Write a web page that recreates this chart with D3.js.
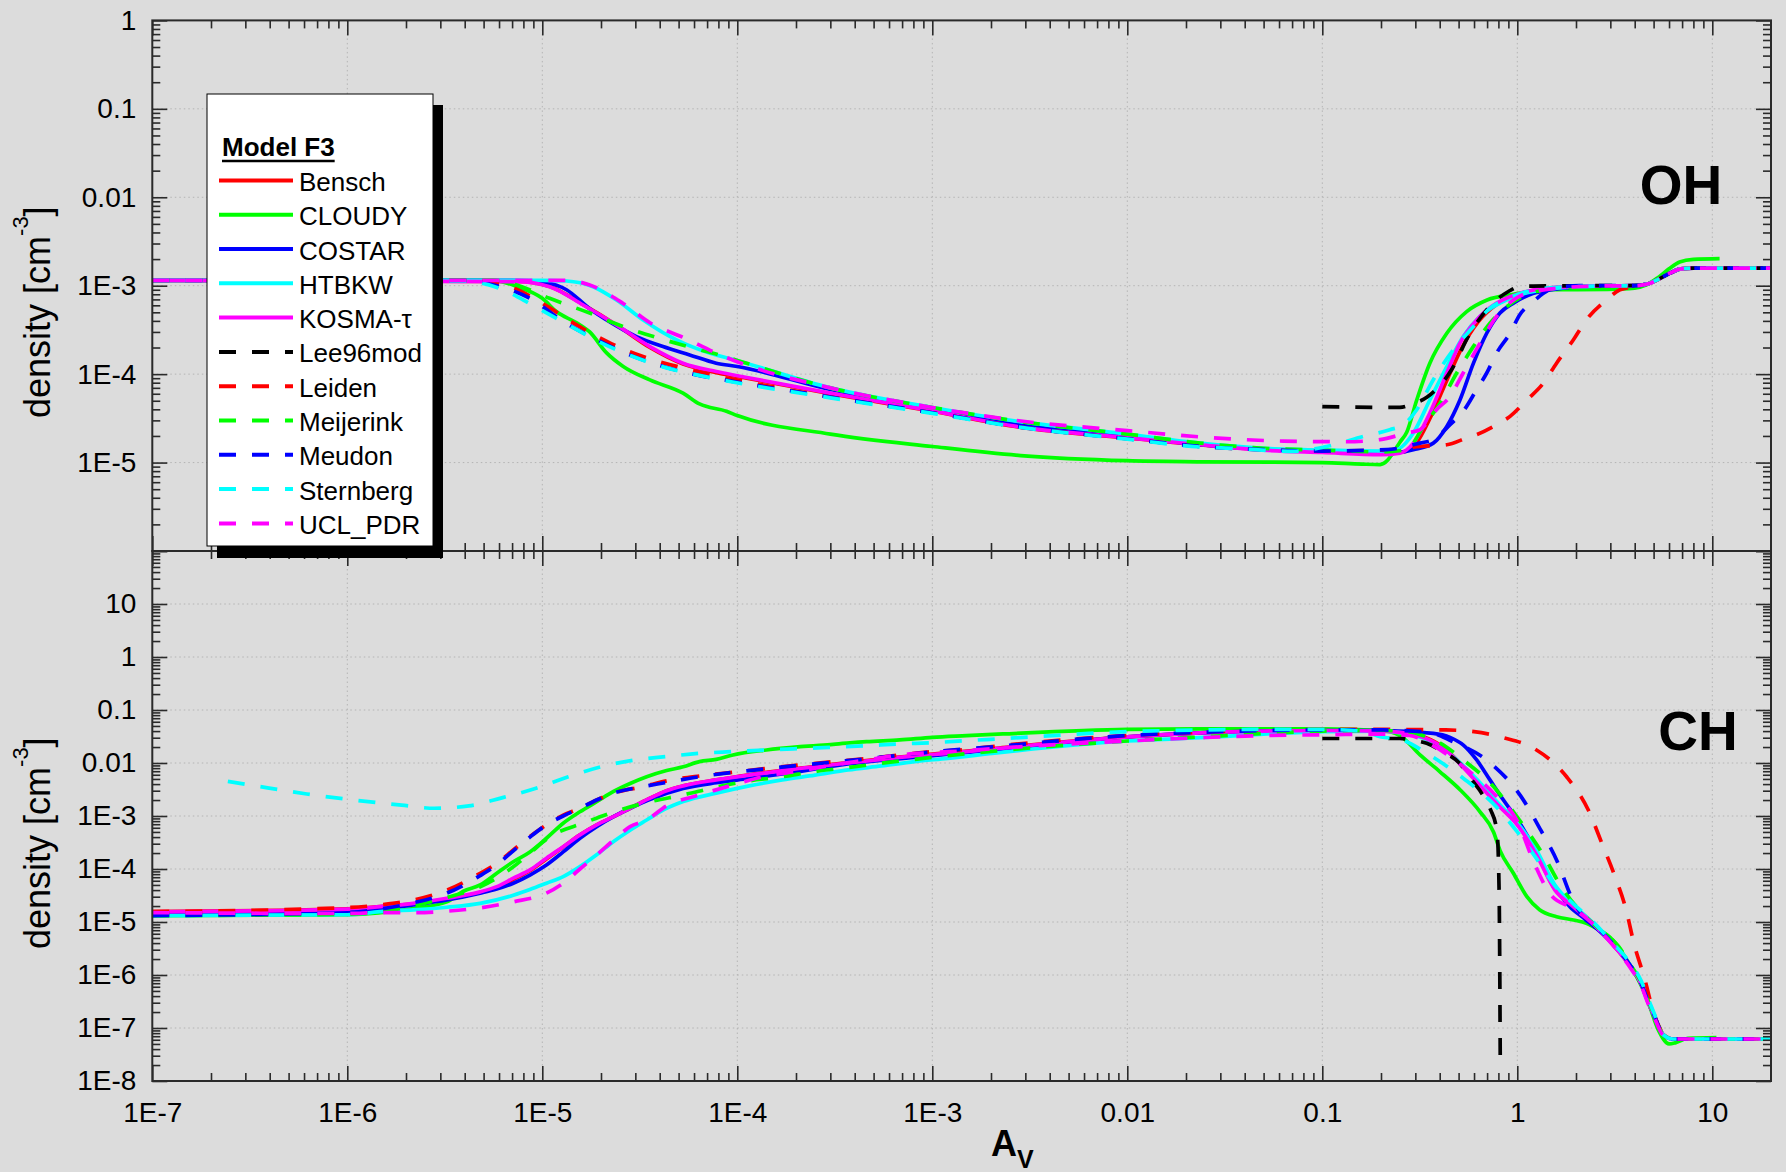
<!DOCTYPE html>
<html><head><meta charset="utf-8">
<script src="https://cdn.jsdelivr.net/npm/d3@7"></script>
<style>
body{margin:0;background:#dcdcdc;}
svg{display:block;font-family:"Liberation Sans",Arial,sans-serif;}
</style>
</head><body>
<svg id="chart" width="1786" height="1172"></svg>
<script>
// ---------------- data ----------------
const models = ["Bensch","CLOUDY","COSTAR","HTBKW","KOSMA-\u03c4","Lee96mod","Leiden","Meijerink","Meudon","Sternberg","UCL_PDR"];
const xTickValues = [1e-7,1e-6,1e-5,1e-4,1e-3,0.01,0.1,1,10];
const xTickLabels = ["1E-7","1E-6","1E-5","1E-4","1E-3","0.01","0.1","1","10"];
const ohTickValues = [1,0.1,0.01,1e-3,1e-4,1e-5];
const ohTickLabels = ["1","0.1","0.01","1E-3","1E-4","1E-5"];
const chTickValues = [10,1,0.1,0.01,1e-3,1e-4,1e-5,1e-6,1e-7,1e-8];
const chTickLabels = ["10","1","0.1","0.01","1E-3","1E-4","1E-5","1E-6","1E-7","1E-8"];
const xDomain = [1e-7, 20];
const ohDomain = [1e-6, 1];
const chDomain = [1e-8, 100];

// OH density [cm^-3] vs A_V  ([A_V, n])
const OH_Bensch = [[1e-7,1.15e-3],[7.4e-6,1.12e-3],[1.09e-5,9.8e-4],[1.62e-5,6.1e-4],[2.4e-5,3.6e-4],[3.56e-5,2.0e-4],[5.27e-5,1.3e-4],[7.8e-5,1.04e-4],[1e-4,9.4e-5],[3e-4,6.0e-5],[1e-3,3.8e-5],[2.84e-3,2.5e-5],[0.01,1.9e-5],[0.0236,1.58e-5],[0.05,1.4e-5],[0.1,1.33e-5],[0.2,1.28e-5],[0.26,1.32e-5],[0.3,1.6e-5],[0.36,3.3e-5],[0.44,9e-5],[0.52,2.0e-4],[0.63,3.9e-4],[0.79,6.2e-4],[1.03,8.1e-4],[1.41,9.3e-4],[2.5,9.9e-4],[4.0,1.0e-3],[4.7,1.05e-3],[5.25,1.17e-3],[6.0,1.37e-3],[6.9,1.55e-3],[8.0,1.58e-3],[20,1.58e-3]];
const OH_CLOUDY = [[1e-7,1.15e-3],[5.6e-6,1.15e-3],[7.4e-6,9.8e-4],[1.0e-5,7.2e-4],[1.18e-5,5.1e-4],[1.5e-5,3.8e-4],[1.75e-5,3.0e-4],[2.13e-5,1.75e-4],[2.6e-5,1.22e-4],[3.56e-5,8.6e-5],[5.27e-5,6.1e-5],[6.4e-5,4.6e-5],[8.8e-5,3.8e-5],[1e-4,3.4e-5],[3e-4,2.1e-5],[1e-3,1.52e-5],[2.84e-3,1.2e-5],[0.01,1.05e-5],[0.0236,1.02e-5],[0.1,1.0e-5],[0.16,9.6e-6],[0.198,9.5e-6],[0.215,1.05e-5],[0.231,1.3e-5],[0.25,1.7e-5],[0.271,2.2e-5],[0.305,5.1e-5],[0.356,1.33e-4],[0.435,2.9e-4],[0.55,5.1e-4],[0.7,6.9e-4],[0.955,8.0e-4],[1.41,9.0e-4],[2.9,9.1e-4],[4.0,9.4e-4],[4.6,1.02e-3],[5.3,1.25e-3],[6.0,1.55e-3],[6.8,1.85e-3],[8.0,1.98e-3],[10.9,2.02e-3]];
const OH_COSTAR = [[1e-7,1.15e-3],[7e-6,1.15e-3],[1.05e-5,1.08e-3],[1.33e-5,9.0e-4],[1.75e-5,5.5e-4],[2.22e-5,3.9e-4],[3.04e-5,2.66e-4],[4.16e-5,2.05e-4],[5.7e-5,1.65e-4],[7.8e-5,1.33e-4],[1e-4,1.22e-4],[3e-4,6.7e-5],[1e-3,4.0e-5],[2.84e-3,2.65e-5],[0.01,2.0e-5],[0.0236,1.59e-5],[0.05,1.42e-5],[0.1,1.36e-5],[0.198,1.25e-5],[0.293,1.4e-5],[0.371,1.66e-5],[0.435,2.56e-5],[0.508,5.1e-5],[0.596,1.33e-4],[0.697,2.9e-4],[0.815,4.9e-4],[0.955,6.35e-4],[1.21,8.2e-4],[1.53,9.1e-4],[2.5,9.9e-4],[4.0,1.0e-3],[4.7,1.05e-3],[5.25,1.17e-3],[6.0,1.37e-3],[6.9,1.55e-3],[8.0,1.58e-3],[20,1.58e-3]];
const OH_HTBKW = [[1e-7,1.15e-3],[1.0e-5,1.15e-3],[1.33e-5,1.13e-3],[1.82e-5,9.75e-4],[2.4e-5,6.9e-4],[3.29e-5,4.1e-4],[4.88e-5,2.44e-4],[7.2e-5,1.73e-4],[1e-4,1.42e-4],[3e-4,7.0e-5],[1e-3,4.2e-5],[2.84e-3,2.9e-5],[0.01,2.1e-5],[0.0236,1.66e-5],[0.05,1.45e-5],[0.1,1.38e-5],[0.2,1.35e-5],[0.24,1.4e-5],[0.293,2.16e-5],[0.356,5.1e-5],[0.435,1.22e-4],[0.528,2.67e-4],[0.644,4.5e-4],[0.815,6.35e-4],[1.03,7.9e-4],[1.41,9.1e-4],[2.5,9.9e-4],[4.0,1.0e-3],[4.7,1.05e-3],[5.25,1.17e-3],[6.0,1.37e-3],[6.9,1.55e-3],[8.0,1.58e-3],[20,1.58e-3]];
const OH_KOSMA = [[1e-7,1.15e-3],[7.4e-6,1.11e-3],[1.09e-5,9.75e-4],[1.62e-5,6.05e-4],[2.4e-5,3.6e-4],[3.56e-5,2.05e-4],[5.27e-5,1.33e-4],[7.8e-5,1.07e-4],[1e-4,9.6e-5],[3e-4,6.1e-5],[1e-3,3.84e-5],[2.84e-3,2.52e-5],[0.01,1.91e-5],[0.0236,1.59e-5],[0.05,1.38e-5],[0.1,1.3e-5],[0.2,1.23e-5],[0.25,1.28e-5],[0.293,1.66e-5],[0.356,3.63e-5],[0.435,1.03e-4],[0.508,2.24e-4],[0.619,4.1e-4],[0.783,6.35e-4],[1.03,8.2e-4],[1.41,9.4e-4],[2.5,9.9e-4],[4.0,1.0e-3],[4.7,1.05e-3],[5.25,1.17e-3],[6.0,1.37e-3],[6.9,1.55e-3],[8.0,1.58e-3],[20,1.58e-3]];
const OH_Lee96mod = [[0.1,4.3e-5],[0.25,4.2e-5],[0.29,4.6e-5],[0.345,5.5e-5],[0.46,1.12e-4],[0.567,2.8e-4],[0.75,6.35e-4],[0.9,8.6e-4],[1.03,9.8e-4],[1.21,9.9e-4],[2.5,1.0e-3],[4.0,1.0e-3],[4.7,1.05e-3],[5.25,1.17e-3],[6.0,1.37e-3],[6.9,1.55e-3],[8.0,1.58e-3],[20,1.58e-3]];
const OH_Leiden = [[1e-7,1.15e-3],[4.5e-6,1.14e-3],[7.0e-6,9.6e-4],[9.9e-6,6.4e-4],[1.47e-5,3.7e-4],[2.18e-5,2.3e-4],[3.23e-5,1.6e-4],[4.78e-5,1.24e-4],[7.08e-5,1.0e-4],[1.05e-4,8.4e-5],[3e-4,5.5e-5],[1e-3,3.66e-5],[2.84e-3,2.52e-5],[0.01,1.86e-5],[0.0236,1.52e-5],[0.05,1.4e-5],[0.1,1.35e-5],[0.2,1.38e-5],[0.317,1.52e-5],[0.435,1.59e-5],[0.55,1.9e-5],[0.619,2.07e-5],[0.783,2.68e-5],[0.918,3.33e-5],[1.12,5.1e-5],[1.36,7.9e-5],[1.59,1.33e-4],[1.94,2.45e-4],[2.26,4.1e-4],[2.87,6.9e-4],[3.36,9.0e-4],[4.26,1.0e-3],[4.7,1.05e-3],[5.25,1.17e-3],[6.0,1.37e-3],[6.9,1.55e-3],[8.0,1.58e-3],[20,1.58e-3]];
const OH_Meijerink = [[1e-7,1.15e-3],[5.6e-6,1.16e-3],[7.4e-6,1.02e-3],[1.09e-5,7.2e-4],[1.75e-5,4.9e-4],[2.6e-5,3.45e-4],[3.85e-5,2.6e-4],[5.7e-5,2.02e-4],[8.45e-5,1.6e-4],[1e-4,1.43e-4],[3e-4,7.0e-5],[1e-3,4.2e-5],[2.84e-3,2.9e-5],[0.01,2.1e-5],[0.0236,1.66e-5],[0.05,1.45e-5],[0.1,1.38e-5],[0.2,1.32e-5],[0.271,1.4e-5],[0.33,2.56e-5],[0.402,4.7e-5],[0.489,1.03e-4],[0.596,2.06e-4],[0.724,3.78e-4],[0.883,5.8e-4],[1.07,7.6e-4],[1.41,9.0e-4],[2.5,9.9e-4],[4.0,1.0e-3],[4.7,1.05e-3],[5.25,1.17e-3],[6.0,1.37e-3],[6.9,1.55e-3],[8.0,1.58e-3],[20,1.58e-3]];
const OH_Meudon = [[1e-7,1.15e-3],[4e-6,1.14e-3],[6.0e-6,9.8e-4],[8.65e-6,7.2e-4],[1.28e-5,3.93e-4],[1.94e-5,2.4e-4],[2.8e-5,1.65e-4],[4.17e-5,1.22e-4],[6.17e-5,9.8e-5],[9.1e-5,8.4e-5],[3e-4,5.5e-5],[1e-3,3.66e-5],[2.84e-3,2.52e-5],[0.01,1.86e-5],[0.0236,1.52e-5],[0.05,1.4e-5],[0.1,1.35e-5],[0.214,1.4e-5],[0.317,1.66e-5],[0.371,1.82e-5],[0.452,2.68e-5],[0.528,3.8e-5],[0.619,6.7e-5],[0.697,1.03e-4],[0.783,1.73e-4],[0.918,2.9e-4],[1.03,4.7e-4],[1.21,6.6e-4],[1.36,8.2e-4],[1.53,9.4e-4],[2.09,1.0e-3],[4.0,1.0e-3],[4.7,1.05e-3],[5.25,1.17e-3],[6.0,1.37e-3],[6.9,1.55e-3],[8.0,1.58e-3],[20,1.58e-3]];
const OH_Sternberg = [[1e-7,1.15e-3],[4e-6,1.13e-3],[6.07e-6,9.3e-4],[9.0e-6,5.95e-4],[1.33e-5,3.7e-4],[1.97e-5,2.3e-4],[2.92e-5,1.58e-4],[4.2e-5,1.2e-4],[6.2e-5,9.8e-5],[9.3e-5,8.2e-5],[3e-4,5.4e-5],[1e-3,3.6e-5],[2.84e-3,2.5e-5],[0.01,1.84e-5],[0.0236,1.5e-5],[0.032,1.46e-5],[0.071,1.34e-5],[0.105,1.52e-5],[0.163,1.98e-5],[0.222,2.35e-5],[0.261,2.68e-5],[0.305,3.96e-5],[0.371,8.65e-5],[0.47,1.89e-4],[0.596,3.46e-4],[0.724,5.57e-4],[0.883,7.05e-4],[1.12,8.6e-4],[1.41,9.4e-4],[2.5,9.9e-4],[4.0,1.0e-3],[4.7,1.05e-3],[5.25,1.17e-3],[6.0,1.37e-3],[6.9,1.55e-3],[8.0,1.58e-3],[20,1.58e-3]];
const OH_UCL_PDR = [[1e-7,1.15e-3],[1.33e-5,1.15e-3],[1.75e-5,1.02e-3],[2.6e-5,6.3e-4],[3.6e-5,3.76e-4],[5.27e-5,2.61e-4],[7.8e-5,1.73e-4],[1e-4,1.38e-4],[3e-4,7.0e-5],[1e-3,4.2e-5],[2.84e-3,2.95e-5],[0.01,2.3e-5],[0.0236,1.95e-5],[0.063,1.75e-5],[0.133,1.72e-5],[0.198,1.82e-5],[0.271,2.16e-5],[0.317,2.35e-5],[0.385,3.96e-5],[0.452,5.6e-5],[0.528,1.03e-4],[0.644,2.24e-4],[0.783,4.5e-4],[0.955,6.9e-4],[1.21,8.6e-4],[2.5,9.9e-4],[4.0,1.0e-3],[4.7,1.05e-3],[5.25,1.17e-3],[6.0,1.37e-3],[6.9,1.55e-3],[8.0,1.58e-3],[20,1.58e-3]];

// CH density [cm^-3] vs A_V  ([A_V, n])
const CH_Bensch = [[1e-7,1.57e-5],[1e-6,1.77e-5],[1.47e-6,1.95e-5],[2.18e-6,2.2e-5],[3.24e-6,2.7e-5],[4.8e-6,3.6e-5],[5.84e-6,4.4e-5],[7.1e-6,6.4e-5],[8.64e-6,9.3e-5],[1.05e-5,1.55e-4],[1.28e-5,2.6e-4],[1.56e-5,4.4e-4],[1.9e-5,6.8e-4],[2.32e-5,9.7e-4],[2.82e-5,1.4e-3],[3.5e-5,2.1e-3],[4.34e-5,3.0e-3],[5.28e-5,3.7e-3],[7.8e-5,4.8e-3],[1.15e-4,6.0e-3],[1.7e-4,7.3e-3],[2.5e-4,8.6e-3],[3.7e-4,1.02e-2],[5.5e-4,1.19e-2],[8.1e-4,1.38e-2],[1.2e-3,1.55e-2],[2.2e-3,1.92e-2],[0.01,0.031],[0.0236,0.037],[0.05,0.041],[0.1,0.042],[0.2,0.041],[0.256,0.038],[0.333,0.031],[0.416,0.020],[0.518,9.2e-3],[0.646,3.8e-3],[0.805,1.6e-3],[1.0,7.0e-4],[1.25,2.0e-4],[1.56,4.2e-5],[1.94,2.0e-5],[2.42,9.8e-6],[3.03,4.1e-6],[3.78,1.5e-6],[4.3,7e-7],[4.7,3.0e-7],[5.0,1.8e-7],[5.6,7.5e-8],[6.3,6.2e-8],[20,6.2e-8]];
const CH_CLOUDY = [[1e-7,1.32e-5],[1e-6,1.37e-5],[2.18e-6,1.8e-5],[3.24e-6,2.4e-5],[3.94e-6,3.8e-5],[4.8e-6,5.0e-5],[5.84e-6,8.3e-5],[7.1e-6,1.37e-4],[8.64e-6,2.1e-4],[1.05e-5,3.8e-4],[1.28e-5,7.3e-4],[1.56e-5,1.2e-3],[1.9e-5,1.86e-3],[2.32e-5,2.9e-3],[2.82e-5,4.1e-3],[3.43e-5,5.5e-3],[4.34e-5,7.2e-3],[5.28e-5,8.5e-3],[6.4e-5,1.06e-2],[7.8e-5,1.17e-2],[9.5e-5,1.42e-2],[1.41e-4,1.76e-2],[2.1e-4,2.03e-2],[3.1e-4,2.25e-2],[4.6e-4,2.53e-2],[6.8e-4,2.72e-2],[1e-3,3.05e-2],[1.5e-3,3.28e-2],[2.3e-3,3.53e-2],[0.01,0.043],[0.0236,0.044],[0.1,0.044],[0.2,0.041],[0.25,0.033],[0.317,0.0142],[0.40,6.9e-3],[0.51,3.1e-3],[0.644,1.2e-3],[0.755,5.0e-4],[0.815,2.25e-4],[0.955,8.3e-5],[1.12,3.0e-5],[1.3,1.7e-5],[1.59,1.26e-5],[1.94,1.09e-5],[2.26,9.5e-6],[2.45,8.2e-6],[3.1,4.5e-6],[3.8,1.5e-6],[4.6,3.8e-7],[5.3,9e-8],[6.0,5.0e-8],[6.5,5.3e-8],[7.5,6.4e-8],[10.5,6.6e-8]];
const CH_COSTAR = [[1e-7,1.35e-5],[1e-6,1.5e-5],[2.18e-6,2.1e-5],[3.24e-6,2.6e-5],[4.8e-6,3.5e-5],[5.84e-6,4.2e-5],[7.1e-6,5.4e-5],[8.64e-6,7.7e-5],[1.05e-5,1.19e-4],[1.28e-5,2.1e-4],[1.56e-5,3.8e-4],[1.9e-5,6.3e-4],[2.32e-5,9.7e-4],[2.82e-5,1.4e-3],[3.5e-5,2.0e-3],[5.28e-5,3.3e-3],[7.8e-5,4.25e-3],[1.15e-4,5.1e-3],[1.7e-4,6.2e-3],[3.7e-4,9.6e-3],[8.1e-4,1.28e-2],[2.2e-3,1.81e-2],[0.01,0.031],[0.0236,0.037],[0.05,0.040],[0.1,0.041],[0.2,0.041],[0.371,0.0363],[0.452,0.0305],[0.529,0.0218],[0.619,0.0114],[0.724,4.8e-3],[0.849,2.0e-3],[1.03,7.3e-4],[1.21,2.64e-4],[1.415,8.3e-5],[1.59,4.0e-5],[1.86,1.95e-5],[2.26,1.09e-5],[3.03,4.1e-6],[3.78,1.5e-6],[4.3,7e-7],[4.7,3.0e-7],[5.0,1.8e-7],[5.6,7.5e-8],[6.3,6.2e-8],[20,6.2e-8]];
const CH_HTBKW = [[1e-7,1.32e-5],[1e-6,1.37e-5],[1.47e-6,1.57e-5],[2.18e-6,1.69e-5],[3.24e-6,1.9e-5],[4.8e-6,2.25e-5],[7.1e-6,3.2e-5],[8.64e-6,4.1e-5],[1.05e-5,5.4e-5],[1.28e-5,7.2e-5],[1.56e-5,1.11e-4],[1.9e-5,1.85e-4],[2.32e-5,3.3e-4],[2.82e-5,5.4e-4],[3.43e-5,8.4e-4],[4.18e-5,1.3e-3],[5.28e-5,1.87e-3],[7.8e-5,2.7e-3],[1.15e-4,3.7e-3],[1.7e-4,4.8e-3],[2.5e-4,5.9e-3],[3.7e-4,7.4e-3],[5.5e-4,8.8e-3],[8.1e-4,1.06e-2],[1.2e-3,1.22e-2],[2.2e-3,1.57e-2],[0.01,0.026],[0.0236,0.030],[0.05,0.035],[0.1,0.039],[0.2,0.040],[0.256,0.037],[0.333,0.029],[0.416,0.019],[0.518,9.5e-3],[0.646,4.2e-3],[0.805,1.7e-3],[1.0,7.5e-4],[1.25,2.3e-4],[1.56,5.0e-5],[1.94,2.1e-5],[2.42,1.0e-5],[3.03,4.2e-6],[3.78,1.55e-6],[4.3,7.2e-7],[4.7,3.1e-7],[5.0,1.85e-7],[5.6,7.5e-8],[6.3,6.2e-8],[20,6.2e-8]];
const CH_KOSMA = [[1e-7,1.55e-5],[1e-6,1.75e-5],[1.47e-6,1.95e-5],[2.18e-6,2.25e-5],[3.24e-6,2.8e-5],[4.8e-6,3.7e-5],[5.84e-6,4.65e-5],[7.1e-6,6.7e-5],[8.64e-6,9.6e-5],[1.05e-5,1.6e-4],[1.28e-5,2.64e-4],[1.56e-5,4.4e-4],[1.9e-5,6.8e-4],[2.32e-5,9.7e-4],[2.82e-5,1.4e-3],[3.5e-5,2.1e-3],[4.34e-5,3.0e-3],[5.28e-5,3.7e-3],[7.8e-5,4.8e-3],[1.15e-4,5.9e-3],[1.7e-4,7.2e-3],[2.5e-4,8.5e-3],[3.7e-4,1.0e-2],[5.5e-4,1.17e-2],[8.1e-4,1.36e-2],[1.2e-3,1.52e-2],[2.2e-3,1.89e-2],[0.01,0.031],[0.0236,0.037],[0.05,0.040],[0.1,0.041],[0.2,0.040],[0.256,0.0374],[0.333,0.030],[0.416,0.0195],[0.518,8.9e-3],[0.646,3.7e-3],[0.805,1.54e-3],[1.0,6.8e-4],[1.25,1.89e-4],[1.56,4.0e-5],[1.94,1.94e-5],[2.42,9.6e-6],[3.03,4.0e-6],[3.78,1.5e-6],[4.3,7e-7],[4.7,3.0e-7],[5.0,1.8e-7],[5.6,7.5e-8],[6.3,6.2e-8],[20,6.2e-8]];
const CH_Lee96mod = [[0.1,0.029],[0.25,0.029],[0.29,0.027],[0.343,0.0235],[0.42,0.016],[0.506,9.9e-3],[0.58,5e-3],[0.665,2.5e-3],[0.73,1.3e-3],[0.78,6.1e-4],[0.795,3.0e-4],[0.80,1.5e-4],[0.81,1e-5],[0.818,1.7e-8]];
const CH_Leiden = [[1e-7,1.57e-5],[1e-6,1.87e-5],[1.47e-6,2.1e-5],[2.18e-6,2.6e-5],[3.24e-6,4.0e-5],[4.8e-6,8.3e-5],[5.84e-6,1.28e-4],[7.1e-6,2.29e-4],[8.64e-6,4.1e-4],[1.05e-5,6.8e-4],[1.28e-5,1.04e-3],[1.56e-5,1.4e-3],[1.9e-5,2.0e-3],[2.32e-5,2.7e-3],[3.3e-5,3.6e-3],[4.34e-5,4.6e-3],[6.4e-5,5.7e-3],[9.5e-5,6.7e-3],[1.41e-4,7.9e-3],[2.1e-4,9.2e-3],[3.1e-4,1.06e-2],[4.6e-4,1.21e-2],[6.8e-4,1.42e-2],[1.0e-3,1.64e-2],[1.5e-3,1.81e-2],[2.14e-3,2.09e-2],[0.01,0.033],[0.0236,0.038],[0.05,0.042],[0.1,0.043],[0.2,0.043],[0.43,0.042],[0.6,0.039],[0.85,0.030],[1.23,0.0184],[1.79,5.5e-3],[2.32,1.27e-3],[2.72,3.0e-4],[3.17,7.2e-5],[3.61,1.73e-5],[3.97,3.85e-6],[4.52,8.0e-7],[4.95,2.2e-7],[5.39,9.8e-8],[6.07,6.2e-8],[20,6.2e-8]];
const CH_Meijerink = [[1e-7,1.32e-5],[1e-6,1.4e-5],[2.18e-6,2.0e-5],[3.24e-6,2.9e-5],[4.8e-6,4.6e-5],[7.1e-6,1.1e-4],[8.64e-6,2.0e-4],[1.1e-5,4.1e-4],[1.65e-5,7.5e-4],[2.45e-5,1.27e-3],[3.6e-5,1.87e-3],[5.28e-5,2.5e-3],[7.8e-5,3.5e-3],[1.15e-4,4.6e-3],[1.7e-4,5.5e-3],[2.5e-4,6.9e-3],[3.7e-4,8.2e-3],[5.5e-4,9.9e-3],[8.1e-4,1.17e-2],[1.2e-3,1.38e-2],[2.2e-3,1.71e-2],[0.01,0.026],[0.0236,0.031],[0.05,0.036],[0.1,0.040],[0.2,0.041],[0.25,0.040],[0.3,0.036],[0.4,0.024],[0.529,0.0114],[0.755,3.6e-3],[1.0,9.5e-4],[1.34,2.0e-4],[1.69,4.5e-5],[2.14,1.5e-5],[2.8,6.1e-6],[3.3,3.5e-6],[3.78,1.6e-6],[4.3,7.5e-7],[4.7,3.2e-7],[5.0,1.9e-7],[5.6,7.5e-8],[6.3,6.2e-8],[20,6.2e-8]];
const CH_Meudon = [[1e-7,1.32e-5],[1e-6,1.52e-5],[1.47e-6,1.75e-5],[2.18e-6,2.3e-5],[3.24e-6,3.5e-5],[4.8e-6,7.5e-5],[5.84e-6,1.2e-4],[7.1e-6,2.2e-4],[8.64e-6,4.0e-4],[1.05e-5,6.8e-4],[1.28e-5,1.0e-3],[1.56e-5,1.4e-3],[1.9e-5,2.0e-3],[2.32e-5,2.7e-3],[3.3e-5,3.6e-3],[4.18e-5,4.2e-3],[6.4e-5,5.5e-3],[1.41e-4,7.8e-3],[4.6e-4,1.2e-2],[1e-3,1.62e-2],[2.14e-3,2.05e-2],[0.01,0.033],[0.0236,0.038],[0.05,0.041],[0.1,0.042],[0.2,0.042],[0.35,0.038],[0.46,0.026],[0.73,9.9e-3],[1.04,2.4e-3],[1.32,5.4e-4],[1.62,1.27e-4],[1.89,3.0e-5],[2.2,1.2e-5],[2.6,7.5e-6],[3.03,4.2e-6],[3.78,1.55e-6],[4.3,7.2e-7],[4.7,3.1e-7],[5.0,1.85e-7],[5.6,7.5e-8],[6.3,6.2e-8],[20,6.2e-8]];
const CH_Sternberg = [[2.44e-7,4.5e-3],[3.9e-7,3.4e-3],[6.2e-7,2.6e-3],[9.7e-7,2.1e-3],[1.9e-6,1.6e-3],[2.8e-6,1.4e-3],[4.2e-6,1.55e-3],[6.2e-6,2.2e-3],[9.2e-6,3.3e-3],[1.36e-5,5.5e-3],[2.0e-5,8.5e-3],[3.0e-5,1.14e-2],[4.3e-5,1.32e-2],[6.4e-5,1.52e-2],[9.5e-5,1.64e-2],[1.41e-4,1.76e-2],[2.1e-4,1.87e-2],[3.1e-4,1.98e-2],[4.6e-4,2.12e-2],[6.8e-4,2.29e-2],[1.0e-3,2.42e-2],[1.5e-3,2.64e-2],[2.14e-3,2.84e-2],[0.01,0.039],[0.0236,0.042],[0.05,0.043],[0.1,0.043],[0.16,0.040],[0.2,0.031],[0.25,0.028],[0.35,0.0146],[0.53,5.1e-3],[0.78,1.5e-3],[1.0,5.0e-4],[1.25,1.6e-4],[1.56,4.8e-5],[1.94,2.2e-5],[2.42,1.05e-5],[3.03,4.3e-6],[3.78,1.7e-6],[4.3,8e-7],[4.7,3.5e-7],[5.0,2.0e-7],[5.6,7.5e-8],[6.3,6.2e-8],[20,6.2e-8]];
const CH_UCL_PDR = [[1e-7,1.5e-5],[1e-6,1.45e-5],[1.47e-6,1.5e-5],[2.18e-6,1.5e-5],[3.24e-6,1.6e-5],[4.8e-6,1.85e-5],[7.1e-6,2.4e-5],[1.05e-5,3.5e-5],[1.28e-5,5.4e-5],[1.56e-5,1.0e-4],[1.9e-5,1.84e-4],[2.32e-5,3.5e-4],[2.82e-5,6.3e-4],[3.43e-5,8.4e-4],[4.34e-5,1.55e-3],[6.4e-5,2.5e-3],[9.5e-5,3.85e-3],[1.41e-4,5.7e-3],[2.1e-4,7.1e-3],[3.1e-4,9.2e-3],[4.6e-4,1.14e-2],[6.8e-4,1.42e-2],[1.0e-3,1.57e-2],[1.5e-3,1.71e-2],[2.14e-3,1.89e-2],[0.01,0.026],[0.0236,0.030],[0.05,0.033],[0.1,0.034],[0.2,0.035],[0.28,0.033],[0.356,0.023],[0.529,8.5e-3],[0.77,2.5e-3],[1.0,8.0e-4],[1.22,1.3e-4],[1.5,3.1e-5],[1.94,1.8e-5],[2.42,9.5e-6],[3.03,4.0e-6],[3.78,1.4e-6],[4.3,6.5e-7],[4.7,2.8e-7],[5.0,1.7e-7],[5.6,7.3e-8],[6.3,6.2e-8],[20,6.2e-8]];

const ohSeries = [OH_Bensch,OH_CLOUDY,OH_COSTAR,OH_HTBKW,OH_KOSMA,OH_Lee96mod,OH_Leiden,OH_Meijerink,OH_Meudon,OH_Sternberg,OH_UCL_PDR];
const chSeries = [CH_Bensch,CH_CLOUDY,CH_COSTAR,CH_HTBKW,CH_KOSMA,CH_Lee96mod,CH_Leiden,CH_Meijerink,CH_Meudon,CH_Sternberg,CH_UCL_PDR];

// ---------------- styles ----------------
const modelColors = ["#ff0000","#00ff00","#0000ff","#00ffff","#ff00ff","#000000","#ff0000","#00ff00","#0000ff","#00ffff","#ff00ff"];
const modelDashed = [false,false,false,false,false,true,true,true,true,true,true];

// ---------------- layout ----------------
const W = 1786, H = 1172;
const L = 152.3, R = 1771;
const ohTop = 20.4, mid = 551, chBottom = 1081;
const FONT = '"Liberation Sans", Arial, sans-serif';

const svg = d3.select("#chart");
svg.append("rect").attr("width", W).attr("height", H).attr("fill", "#dcdcdc");

const x = d3.scaleLog().domain(xDomain).range([L, R]);
const yOH = d3.scaleLog().domain(ohDomain).range([mid, ohTop]);
const yCH = d3.scaleLog().domain(chDomain).range([chBottom, mid]);

function decades(dom) {
  const a = Math.round(Math.log10(dom[0])), b = Math.floor(Math.log10(dom[1]) + 1e-9);
  return d3.range(a, b + 1).map(e => +("1e" + e));
}
function minors(dom) {
  const a = Math.round(Math.log10(dom[0])), b = Math.floor(Math.log10(dom[1]) + 1e-9);
  const out = [];
  for (let e = a; e <= b; e++) for (let k = 2; k <= 9; k++) {
    const v = k * +("1e" + e);
    if (v > dom[0] * 1.0001 && v < dom[1] * 0.9999) out.push(v);
  }
  return out;
}

const xMajor = decades(xDomain);
const xMinor = minors(xDomain);

function styleAxis(g) {
  g.select(".domain").remove();
  g.selectAll(".tick line").attr("stroke", "#2a2a2a").attr("stroke-width", 1.6);
  g.selectAll(".tick text").attr("font-family", FONT).attr("font-size", 28).attr("fill", "#000");
}

function drawPanel(yScale, top, bottom, series, yLabVals, yLabs, showX, clipId) {
  const g = svg.append("g");
  // dotted grid at decades
  const gx = xMajor.filter(v => v > xDomain[0] * 1.001 && v < xDomain[1] * 0.999);
  const yDom = yScale.domain();
  const gy = decades(yDom).filter(v => v > yDom[0] * 1.001 && v < yDom[1] * 0.999);
  g.append("g").selectAll("line").data(gx).join("line")
    .attr("x1", d => x(d)).attr("x2", d => x(d)).attr("y1", top).attr("y2", bottom)
    .attr("stroke", "#b4b4b4").attr("stroke-width", 1).attr("stroke-dasharray", "1.5,3");
  g.append("g").selectAll("line").data(gy).join("line")
    .attr("y1", d => yScale(d)).attr("y2", d => yScale(d)).attr("x1", L).attr("x2", R)
    .attr("stroke", "#b4b4b4").attr("stroke-width", 1).attr("stroke-dasharray", "1.5,3");

  // clip + curves
  svg.append("clipPath").attr("id", clipId).append("rect")
    .attr("x", L).attr("y", top).attr("width", R - L).attr("height", bottom - top);
  const line = d3.line().x(d => x(d[0])).y(d => yScale(d[1])).curve(d3.curveMonotoneX);
  g.append("g").attr("clip-path", `url(#${clipId})`)
    .selectAll("path").data(series).join("path")
    .attr("d", line).attr("fill", "none")
    .attr("stroke", (d, i) => modelColors[i])
    .attr("stroke-width", 3.7)
    .attr("stroke-dasharray", (d, i) => modelDashed[i] ? "17,16" : null);

  // x ticks top (pointing down) and bottom (pointing up)
  const yMajor = decades(yDom), yMinor = minors(yDom);
  g.append("g").attr("transform", `translate(0,${top})`)
    .call(d3.axisTop(x).tickValues(xMajor).tickSizeInner(-15).tickSizeOuter(0).tickFormat("")).call(styleAxis);
  g.append("g").attr("transform", `translate(0,${top})`)
    .call(d3.axisTop(x).tickValues(xMinor).tickSizeInner(-8).tickSizeOuter(0).tickFormat("")).call(styleAxis);
  g.append("g").attr("transform", `translate(0,${bottom})`)
    .call(d3.axisBottom(x).tickValues(xMajor).tickSizeInner(-15).tickSizeOuter(0).tickFormat("")).call(styleAxis);
  g.append("g").attr("transform", `translate(0,${bottom})`)
    .call(d3.axisBottom(x).tickValues(xMinor).tickSizeInner(-8).tickSizeOuter(0).tickFormat("")).call(styleAxis);
  if (showX) {
    g.append("g").attr("transform", `translate(0,${bottom})`)
      .call(d3.axisBottom(x).tickValues(xTickValues).tickSize(0).tickPadding(21).tickFormat((d, i) => xTickLabels[i]))
      .call(styleAxis);
  }
  // y ticks left (pointing right) and right (pointing left)
  g.append("g").attr("transform", `translate(${L},0)`)
    .call(d3.axisLeft(yScale).tickValues(yMajor).tickSizeInner(-15).tickSizeOuter(0).tickFormat("")).call(styleAxis);
  g.append("g").attr("transform", `translate(${L},0)`)
    .call(d3.axisLeft(yScale).tickValues(yMinor).tickSizeInner(-8).tickSizeOuter(0).tickFormat("")).call(styleAxis);
  g.append("g").attr("transform", `translate(${R},0)`)
    .call(d3.axisRight(yScale).tickValues(yMajor).tickSizeInner(-15).tickSizeOuter(0).tickFormat("")).call(styleAxis);
  g.append("g").attr("transform", `translate(${R},0)`)
    .call(d3.axisRight(yScale).tickValues(yMinor).tickSizeInner(-8).tickSizeOuter(0).tickFormat("")).call(styleAxis);
  g.append("g").attr("transform", `translate(${L},0)`)
    .call(d3.axisLeft(yScale).tickValues(yLabVals).tickSize(0).tickPadding(16).tickFormat((d, i) => yLabs[i]))
    .call(styleAxis);
  // frame
  g.append("rect").attr("x", L).attr("y", top).attr("width", R - L).attr("height", bottom - top)
    .attr("fill", "none").attr("stroke", "#2a2a2a").attr("stroke-width", 2);
  return g;
}

drawPanel(yOH, ohTop, mid, ohSeries, ohTickValues, ohTickLabels, false, "clipOH");
drawPanel(yCH, mid, chBottom, chSeries, chTickValues, chTickLabels, true, "clipCH");

// y titles
function yTitle(yStart) {
  const t = svg.append("text").attr("transform", `translate(50,${yStart}) rotate(-90)`)
    .attr("font-family", FONT).attr("font-size", 36).attr("fill", "#000");
  t.append("tspan").text("density [cm");
  t.append("tspan").attr("font-size", 22).attr("dy", -22).text("-3");
  t.append("tspan").attr("dy", 22).text("]");
}
yTitle(418);
yTitle(949);

// x title
const xt = svg.append("text").attr("x", 991).attr("y", 1156)
  .attr("font-family", FONT).attr("font-weight", "bold").attr("font-size", 36).attr("fill", "#000");
xt.append("tspan").text("A");
xt.append("tspan").attr("font-size", 25).attr("dy", 12).text("V");

// panel labels
svg.append("text").attr("x", 1681).attr("y", 204).attr("text-anchor", "middle")
  .attr("font-family", FONT).attr("font-weight", "bold").attr("font-size", 55).text("OH");
svg.append("text").attr("x", 1698).attr("y", 750).attr("text-anchor", "middle")
  .attr("font-family", FONT).attr("font-weight", "bold").attr("font-size", 55).text("CH");

// legend
const lg = svg.append("g");
lg.append("rect").attr("x", 217).attr("y", 105).attr("width", 226).attr("height", 453).attr("fill", "#000");
lg.append("rect").attr("x", 207).attr("y", 94).attr("width", 226).attr("height", 452)
  .attr("fill", "#fff").attr("stroke", "#000").attr("stroke-width", 1);
const ttl = lg.append("text").attr("x", 222).attr("y", 156).attr("font-family", FONT)
  .attr("font-weight", "bold").attr("font-size", 26).attr("fill", "#000").text("Model F3");
const tw = ttl.node().getComputedTextLength();
lg.append("line").attr("x1", 222).attr("x2", 222 + tw).attr("y1", 161).attr("y2", 161)
  .attr("stroke", "#000").attr("stroke-width", 2.5);
models.forEach((m, i) => {
  const yy = 180.4 + i * 34.3;
  lg.append("line").attr("x1", 219).attr("x2", 293).attr("y1", yy).attr("y2", yy)
    .attr("stroke", modelColors[i]).attr("stroke-width", 4)
    .attr("stroke-dasharray", modelDashed[i] ? "17,16" : null);
  lg.append("text").attr("x", 299).attr("y", yy + 10.5).attr("font-family", FONT)
    .attr("font-size", 26).attr("fill", "#000").text(m);
});
</script>
</body></html>
